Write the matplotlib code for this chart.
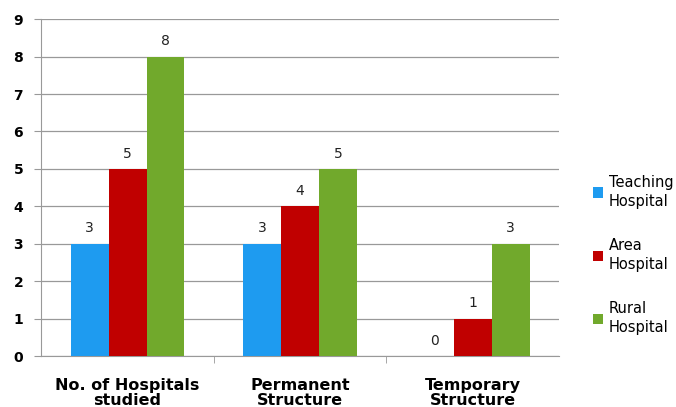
import numpy as np
import matplotlib.pyplot as plt

categories = ["No. of Hospitals\nstudied", "Permanent\nStructure", "Temporary\nStructure"]
series_names = ["Teaching\nHospital", "Area\nHospital", "Rural\nHospital"]
teaching = [3, 3, 0]
area = [5, 4, 1]
rural = [8, 5, 3]

colors = ["#1E9BF0", "#C00000", "#71A92C"]

fig = plt.figure(figsize=(6.76, 4.07), dpi=100)
ax = fig.add_axes([0.061, 0.125, 0.766, 0.828])

x = np.arange(len(categories))
width = 0.22
for i, (vals, name) in enumerate(zip([teaching, area, rural], series_names)):
    bars = ax.bar(x + (i - 1) * width, vals, width, color=colors[i], label=name, zorder=3)
    ax.bar_label(bars, padding=6, fontsize=10, color="#222222")

ax.set_xlim(-0.5, 2.5)
ax.set_ylim(0, 9)
ax.set_yticks(range(0, 10))
ax.grid(axis="y", color="#999999", linewidth=0.9, zorder=0)

ax.set_xticks(x)
ax.set_xticklabels(categories, fontsize=11.5, fontweight="bold", linespacing=1.0)
ax.set_xticks([0.5, 1.5], minor=True)
ax.tick_params(axis="x", which="major", length=0, pad=16)
ax.tick_params(axis="x", which="minor", length=5, color="#999999")
ax.tick_params(axis="y", length=5, color="#999999", labelsize=10, pad=8)
for lab in ax.get_yticklabels():
    lab.set_fontweight("bold")

for side in ["top", "right"]:
    ax.spines[side].set_visible(False)
for side in ["left", "bottom"]:
    ax.spines[side].set_color("#999999")

ax.legend(loc="center left", bbox_to_anchor=(1.04, 0.30), frameon=False,
          fontsize=10.5, labelspacing=2.0, handlelength=0.7, handleheight=0.7,
          handletextpad=0.4)
for t in ax.get_legend().get_texts():
    t.set_linespacing(1.35)

fig.savefig("out.png", dpi=100)
